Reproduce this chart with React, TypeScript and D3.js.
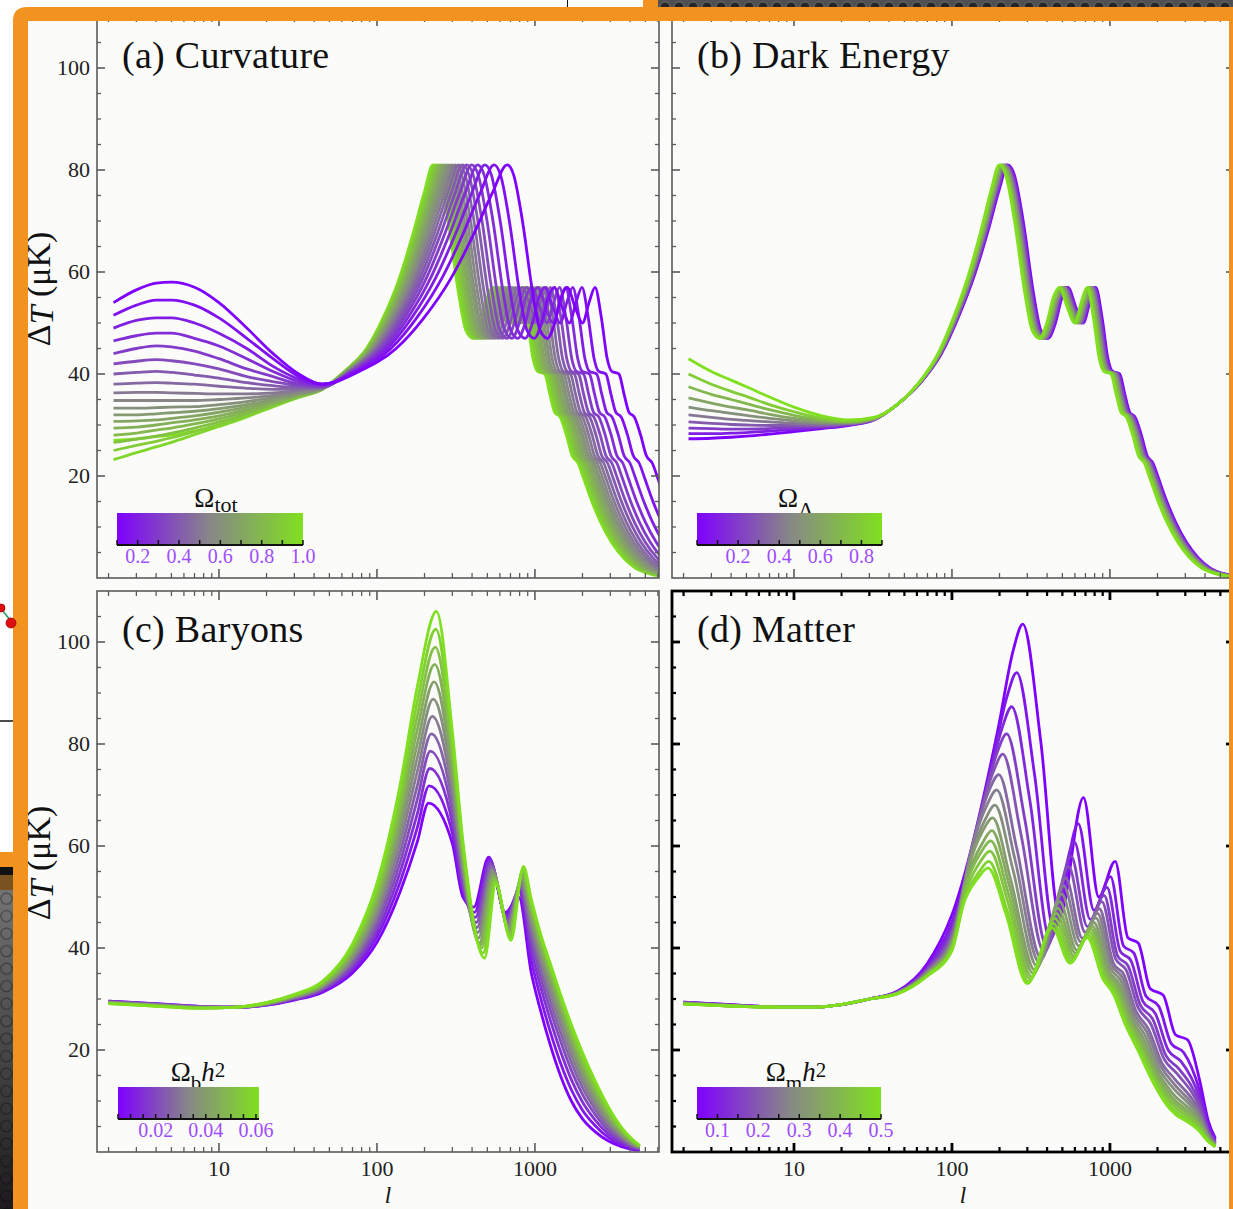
import React from 'react';
import * as d3 from 'd3';

const FONT = "'Liberation Serif','Times New Roman',Times,serif";
const ORANGE = '#f2931f';
const PURPLE = '#7f00ff';
const GRAY = '#878787';
const GREEN = '#80e01f';
const LABEL_PURPLE = '#a04cff';

// ---------- shared axes ----------
const L_DOMAIN = [1.69, 6100];
const T_DOMAIN = [0, 110];
const xMajor = [10, 100, 1000];
const xMinor = [2, 3, 4, 5, 6, 7, 8, 9, 20, 30, 40, 50, 60, 70, 80, 90, 200, 300, 400, 500, 600, 700, 800, 900, 2000, 3000, 4000, 5000, 6000];
const yMajor = [20, 40, 60, 80, 100];
const yMinor = [5, 10, 15, 25, 30, 35, 45, 50, 55, 65, 70, 75, 85, 90, 95, 105];

// ---------- (a) Curvature ----------
const curvOmega = [0.1, 0.15, 0.2, 0.25, 0.3, 0.35, 0.4, 0.45, 0.5, 0.55, 0.6, 0.65, 0.7, 0.75, 0.8, 0.85, 0.9, 0.95, 1.0];
const curvPeakL = [667, 551, 482, 434, 398, 370, 348, 329, 313, 299, 287, 277, 267, 259, 251, 244, 237, 232, 226];
const lowL = [2.15, 3, 4, 5, 7, 10, 15, 22, 32, 45];
const curvLowT = [
  [54, 56.5, 57.8, 58, 57, 54, 49, 44, 40, 38],
  [51.5, 53.5, 54.5, 54.5, 53.5, 51, 47, 43, 39.5, 38],
  [49, 50.5, 51, 51, 50, 48, 45, 41.5, 39, 38],
  [46.5, 47.5, 48, 48, 47, 45.5, 43, 40.5, 38.5, 37.8],
  [44, 45, 45.5, 45.3, 44.5, 43, 41, 39.5, 38, 37.6],
  [42, 42.5, 42.8, 42.6, 42, 41, 39.5, 38.5, 37.7, 37.5],
  [40, 40.3, 40.5, 40.3, 39.8, 39.2, 38.3, 37.7, 37.4, 37.4],
  [38, 38.2, 38.3, 38.2, 38, 37.6, 37.2, 37, 37.1, 37.3],
  [36.3, 36.4, 36.4, 36.3, 36.2, 36.1, 36.1, 36.3, 36.8, 37.3],
  [34.8, 34.8, 34.8, 34.8, 34.8, 35, 35.3, 35.8, 36.5, 37.2],
  [33.3, 33.3, 33.4, 33.5, 33.6, 34, 34.6, 35.4, 36.3, 37.2],
  [32, 32, 32.2, 32.4, 32.7, 33.2, 34, 35, 36.1, 37.1],
  [30.7, 30.8, 31, 31.3, 31.8, 32.5, 33.5, 34.7, 36, 37.1],
  [29.4, 29.6, 30, 30.4, 31, 31.8, 33, 34.4, 35.8, 37],
  [28, 28.4, 29, 29.4, 30.2, 31.2, 32.6, 34.2, 35.7, 37],
  [26.6, 27.2, 27.8, 28.4, 29.4, 30.6, 32.2, 34, 35.6, 37],
  [25, 26, 26.8, 27.5, 28.7, 30.1, 31.9, 33.8, 35.5, 37],
  [23.2, 24.6, 25.7, 26.6, 28.1, 29.7, 31.6, 33.6, 35.4, 37],
  [27, 27.3, 27.7, 28, 28.8, 30, 31.7, 33.6, 35.5, 37],
];
const riseFrac = [0.2, 0.4, 0.55, 0.7, 0.82, 0.92, 1];
const curvRiseT = [40.5, 45, 51, 59, 67.5, 75.5, 81];
// post-peak shape, multipole given as a ratio of each curve's first-peak multipole
const tailRatio = [1.1, 1.25, 1.45, 1.62, 1.8, 2.0, 2.2, 2.4, 2.7, 3.0, 3.3, 3.6, 3.95, 4.3, 4.6, 5.1, 5.5, 5.9, 6.4, 7.0, 7.6, 8.3, 9.0, 10.0, 11.5, 13.5, 16, 19, 23, 27, 31];
const tailT = [79, 70, 56, 48.5, 47, 50, 55, 57, 53, 50, 54, 57, 51, 43, 40.5, 40, 36, 32.5, 31.5, 28, 24, 22.5, 19.5, 15.5, 11, 7, 4, 2, 0.9, 0.4, 0.2];
const curvTicks = [0.1, 0.2, 0.3, 0.4, 0.5, 0.6, 0.7, 0.8, 0.9, 1.0];
const curvLabels = [0.2, 0.4, 0.6, 0.8, 1.0];

// ---------- (b) Dark Energy ----------
const deLambda = [0, 0.1, 0.2, 0.3, 0.4, 0.5, 0.6, 0.7, 0.8, 0.9];
const dePeakL = [226, 223, 220, 217, 214, 211, 208, 205, 202, 199];
const deLowT = [
  [27.3, 27.4, 27.6, 27.8, 28.2, 28.7, 29.3, 29.9, 31, 34],
  [28.3, 28.3, 28.4, 28.5, 28.8, 29.1, 29.5, 30, 31, 34],
  [29.4, 29.3, 29.2, 29.2, 29.3, 29.5, 29.7, 30.1, 31, 34],
  [30.6, 30.3, 30.1, 30, 29.9, 29.9, 29.9, 30.2, 31.1, 34],
  [32, 31.5, 31.1, 30.9, 30.6, 30.3, 30.2, 30.3, 31.1, 34],
  [33.5, 32.8, 32.3, 31.9, 31.3, 30.8, 30.4, 30.4, 31.2, 34],
  [35.3, 34.3, 33.5, 33, 32.1, 31.3, 30.7, 30.5, 31.2, 34],
  [37.5, 36, 35, 34.2, 33, 31.9, 31, 30.6, 31.3, 34],
  [40, 38, 36.6, 35.6, 34, 32.6, 31.3, 30.8, 31.4, 34],
  [43, 40.5, 38.8, 37.5, 35.5, 33.5, 31.8, 31, 31.5, 34],
];
const deRiseT = [38, 44, 51, 59.5, 68, 76, 81];
const deTicks = [0, 0.1, 0.2, 0.3, 0.4, 0.5, 0.6, 0.7, 0.8, 0.9];
const deLabels = [0.2, 0.4, 0.6, 0.8];

// ---------- (c) Baryons ----------
const baryOmega = [0.005, 0.01, 0.015, 0.02, 0.025, 0.03, 0.035, 0.04, 0.045, 0.05, 0.055, 0.06];
const baryKnotL = [
  2, 3, 5, 8, 13, 20, 30, 45, 70, 100, 140, 180,
  [212, 214, 216, 218, 221, 224, 227, 230, 232, 234, 236, 238],
  300, 350,
  [410, 415, 420, 425, 430, 435, 440, 445, 450, 460, 470, 480],
  [510, 515, 520, 525, 530, 535, 540, 545, 550, 555, 560, 565],
  [650, 655, 660, 665, 670, 675, 680, 685, 690, 695, 700, 705],
  [790, 795, 800, 805, 810, 815, 820, 825, 830, 835, 840, 845],
  950, 1080, 1250, 1450, 1700, 2000, 2400, 2900, 3500, 4100, 4600,
];
const baryKnotT = [
  [29.6, 29.6, 29.5, 29.5, 29.4, 29.4, 29.3, 29.3, 29.2, 29.2, 29.1, 29.1],
  [29.3, 29.3, 29.2, 29.2, 29.1, 29.1, 29.0, 29.0, 28.9, 28.9, 28.8, 28.8],
  [28.9, 28.9, 28.8, 28.8, 28.7, 28.7, 28.6, 28.6, 28.5, 28.5, 28.4, 28.4],
  [28.5, 28.5, 28.5, 28.4, 28.4, 28.4, 28.3, 28.3, 28.3, 28.2, 28.2, 28.2],
  28.4,
  [28.8, 28.8, 28.9, 28.9, 29.0, 29.0, 29.1, 29.1, 29.2, 29.2, 29.3, 29.3],
  [29.8, 29.9, 30.0, 30.1, 30.2, 30.3, 30.4, 30.5, 30.6, 30.7, 30.8, 30.9],
  [31.3, 31.5, 31.7, 31.9, 32.1, 32.3, 32.5, 32.6, 32.8, 33.0, 33.2, 33.4],
  [35.1, 35.6, 36.1, 36.6, 37.2, 37.7, 38.2, 38.7, 39.2, 39.8, 40.3, 40.8],
  [41.1, 42.2, 43.2, 44.3, 45.3, 46.4, 47.4, 48.4, 49.5, 50.5, 51.6, 52.7],
  [51.0, 52.9, 54.8, 56.7, 58.6, 60.5, 62.4, 64.2, 66.1, 68.0, 70.0, 71.9],
  [60.8, 63.6, 66.3, 69.1, 71.8, 74.6, 77.3, 80.0, 82.8, 85.5, 88.3, 91.2],
  [68.4, 71.8, 75.2, 78.6, 82, 85.4, 88.8, 92.2, 95.6, 99, 102.5, 106],
  [60.5, 62.5, 64.5, 66.5, 68.5, 70.5, 72.5, 74.5, 76.5, 78.5, 80.5, 82.5],
  [50, 51, 52, 53, 54, 55, 56, 57, 58, 59, 60, 61],
  [48, 47, 46, 45, 44, 43, 42, 41, 40.5, 40, 39, 38],
  [57.8, 57.5, 57, 56.5, 56, 55.5, 55, 54.5, 54, 53.5, 53, 52.5],
  [47, 46.5, 46, 45.5, 45, 44.5, 44, 43.5, 43, 42.5, 42, 41.5],
  [50, 51, 51.5, 52, 52.5, 53, 53.5, 54, 54.5, 55, 55.5, 56],
  [35, 37.5, 39.5, 41.3, 42.8, 44.2, 45.4, 46.4, 47.3, 48.1, 48.8, 49.5],
  [28, 30.5, 32.7, 34.6, 36.2, 37.7, 39, 40.1, 41, 41.8, 42.5, 43],
  [21, 23.6, 25.9, 27.9, 29.6, 31.2, 32.6, 33.8, 34.8, 35.7, 36.4, 37],
  [15, 17.5, 19.8, 21.8, 23.5, 25.1, 26.5, 27.7, 28.8, 29.7, 30.4, 31],
  [10, 12.2, 14.2, 16, 17.6, 19, 20.3, 21.5, 22.5, 23.4, 24.2, 25],
  [6.5, 8.2, 9.8, 11.3, 12.6, 13.8, 14.9, 15.9, 16.8, 17.7, 18.6, 19.5],
  [4, 5.2, 6.3, 7.4, 8.4, 9.3, 10.2, 11, 11.8, 12.6, 13.3, 14],
  [2.2, 2.9, 3.6, 4.3, 5, 5.6, 6.2, 6.8, 7.4, 7.9, 8.5, 9],
  [1.1, 1.5, 1.9, 2.3, 2.7, 3.1, 3.4, 3.8, 4.1, 4.4, 4.7, 5],
  [0.5, 0.7, 0.9, 1.1, 1.3, 1.5, 1.7, 1.9, 2.1, 2.3, 2.5, 2.6],
  [0.3, 0.4, 0.5, 0.6, 0.7, 0.8, 0.9, 1, 1.1, 1.2, 1.2, 1.3],
];
const baryTicks = [0.005, 0.01, 0.015, 0.02, 0.025, 0.03, 0.035, 0.04, 0.045, 0.05, 0.055, 0.06];
const baryLabels = [0.02, 0.04, 0.06];

// ---------- (d) Matter ----------
const matterOmega = [0.05, 0.085, 0.119, 0.154, 0.188, 0.223, 0.258, 0.292, 0.327, 0.362, 0.396, 0.431, 0.465, 0.5];
const matterKnotL = [
  2, 3, 5, 8, 13, 20, 30, 45, 70, 100,
  [197, 180, 167, 155, 147, 139, 134, 131, 127, 125, 123, 122, 120, 118],
  [244, 224, 208, 193, 183, 172, 167, 163, 157, 156, 153, 151, 149, 147],
  [281, 257, 239, 222, 210, 198, 192, 187, 181, 179, 176, 174, 171, 169],
  [365, 334, 311, 289, 273, 257, 250, 243, 235, 233, 229, 226, 222, 220],
  [480, 444, 418, 399, 384, 368, 357, 346, 336, 327, 319, 312, 305, 300],
  [680, 630, 595, 568, 548, 525, 510, 495, 480, 468, 458, 448, 438, 430],
  [850, 792, 751, 720, 696, 670, 653, 635, 618, 604, 592, 580, 569, 560],
  [1080, 1008, 958, 918, 889, 857, 835, 814, 792, 774, 760, 745, 731, 720],
  [1300, 1220, 1164, 1120, 1088, 1052, 1028, 1004, 980, 960, 944, 928, 912, 900],
  [1510, 1418, 1354, 1303, 1266, 1225, 1197, 1170, 1142, 1119, 1101, 1082, 1064, 1050],
  [1800, 1690, 1613, 1553, 1509, 1459, 1426, 1393, 1360, 1333, 1311, 1289, 1267, 1250],
  [2170, 2036, 1942, 1869, 1815, 1755, 1714, 1674, 1634, 1601, 1574, 1547, 1520, 1500],
  [2600, 2450, 2345, 2263, 2203, 2135, 2090, 2045, 2000, 1963, 1933, 1903, 1873, 1850],
  [3100, 2930, 2811, 2718, 2650, 2573, 2522, 2471, 2420, 2378, 2344, 2310, 2276, 2250],
  3700, 4200, 4650,
];
const matterKnotT = [
  [29.4, 29.4, 29.3, 29.3, 29.3, 29.2, 29.2, 29.2, 29.1, 29.1, 29.1, 29.0, 29.0, 29.0],
  [29.1, 29.1, 29.0, 29.0, 29.0, 28.9, 28.9, 28.9, 28.9, 28.8, 28.8, 28.8, 28.8, 28.8],
  [28.7, 28.7, 28.7, 28.6, 28.6, 28.6, 28.6, 28.6, 28.5, 28.5, 28.5, 28.5, 28.5, 28.5],
  28.4,
  28.4,
  28.9,
  30.0,
  [31.5, 31.4, 31.3, 31.3, 31.2, 31.2, 31.2, 31.1, 31.1, 31.1, 31.1, 31.0, 31.0, 31.0],
  [37, 36.5, 36.2, 35.9, 35.7, 35.5, 35.3, 35.2, 35, 34.9, 34.8, 34.7, 34.6, 34.5],
  [46.5, 45.1, 44.1, 43.4, 42.8, 42.2, 41.7, 41.3, 40.9, 40.6, 40.3, 40, 39.7, 39.5],
  [83.4, 76.5, 71.6, 67.7, 64.8, 61.9, 59.7, 57.5, 55.6, 53.8, 52.4, 50.9, 49.4, 48.5],
  [98.3, 89.5, 83.2, 78.3, 74.6, 70.9, 68.1, 65.3, 63, 60.6, 58.8, 56.9, 55, 53.8],
  [103.5, 94, 87.3, 82, 78, 74, 71, 68, 65.5, 63, 61, 59, 57, 55.7],
  [80.5, 73.8, 69, 65.3, 62.4, 59.6, 57.5, 55.4, 53.5, 51.8, 50.4, 49, 47.6, 46.6],
  [46, 43.4, 41.6, 40.2, 39.1, 37.9, 37.2, 36.4, 35.6, 35, 34.4, 33.9, 33.4, 33],
  [69.5, 64.4, 60.8, 58, 56, 53.7, 52.2, 50.6, 49.1, 47.8, 46.8, 45.8, 44.8, 44],
  [50, 47.4, 45.6, 44.2, 43.1, 41.9, 41.2, 40.4, 39.6, 39, 38.4, 37.9, 37.4, 37],
  [57, 54, 51.9, 50.3, 49.1, 47.7, 46.8, 45.9, 45, 44.3, 43.7, 43.1, 42.5, 42],
  [42, 40.4, 39.3, 38.4, 37.8, 37, 36.6, 36.1, 35.6, 35.2, 34.9, 34.6, 34.2, 34],
  [41, 39, 37.6, 36.5, 35.7, 34.8, 34.2, 33.6, 33, 32.5, 32.1, 31.7, 31.3, 31],
  [32, 30.6, 29.6, 28.9, 28.3, 27.7, 27.2, 26.8, 26.4, 26.1, 25.8, 25.5, 25.2, 25],
  [30.8, 28.6, 27.1, 26, 25.1, 24.1, 23.5, 22.8, 22.2, 21.6, 21.2, 20.8, 20.3, 20],
  [23, 21.2, 19.9, 18.9, 18.2, 17.4, 16.9, 16.3, 15.8, 15.4, 15, 14.6, 14.3, 14],
  [22, 19.5, 17.8, 16.4, 15.4, 14.3, 13.5, 12.8, 12, 11.4, 10.9, 10.4, 9.9, 9.5],
  [14, 12, 10.6, 9.5, 8.7, 7.8, 7.2, 6.6, 6, 5.5, 5.1, 4.7, 4.3, 4],
  [6, 5.2, 4.6, 4.2, 3.9, 3.5, 3.3, 3, 2.8, 2.6, 2.4, 2.3, 2.1, 2],
  [2.7, 2.4, 2.1, 1.9, 1.7, 1.6, 1.5, 1.4, 1.3, 1.2, 1.1, 1.05, 1, 1],
];
const matterTicks = [0.05, 0.1, 0.15, 0.2, 0.25, 0.3, 0.35, 0.4, 0.45, 0.5];
const matterLabels = [0.1, 0.2, 0.3, 0.4, 0.5];

// ---------- builders ----------
type Pt = [number, number];

function composite(lowT: number[], peakL: number[], i: number, riseT: number[]): Pt[] {
  const pts: Pt[] = lowL.map((l, j) => [l, lowT[j]] as Pt);
  const anchor = lowL[lowL.length - 1];
  const la = Math.log10(anchor);
  const lp = Math.log10(peakL[i]);
  riseFrac.forEach((f, j) => pts.push([Math.pow(10, la + f * (lp - la)), riseT[j]]));
  tailRatio.forEach((r, j) => pts.push([peakL[i] * r, tailT[j]]));
  return pts;
}

function fromKnots(Ls: any[], Ts: any[], i: number): Pt[] {
  return Ls.map((l, j) => {
    const lv = Array.isArray(l) ? l[i] : l;
    const tv = Array.isArray(Ts[j]) ? Ts[j][i] : Ts[j];
    return [lv, tv] as Pt;
  });
}

function colorScale(domain: number[]) {
  const mid = (domain[0] + domain[1]) / 2;
  return d3.scaleLinear<string>().domain([domain[0], mid, domain[1]]).range([PURPLE, GRAY, GREEN]).interpolate(d3.interpolateRgb);
}

type PanelSpec = {
  id: string;
  x0: number; x1: number; y0: number; y1: number;
  title: string;
  curves: { v: number; pts: Pt[] }[];
  cdomain: number[];
  reverse: boolean;
  frameColor: string;
  frameWidth: number;
  yLabels: boolean;
  xLabels: boolean;
  legend: {
    x: number; y: number; w: number; h: number; domain: number[];
    ticks: number[]; labels: number[]; fmt: string;
    titleX: number;
    titleParts: { t: string; dy: number; size: number; italic?: boolean }[];
  };
};

function Panel({ p }: { p: PanelSpec }) {
  const xs = d3.scaleLog().domain(L_DOMAIN).range([p.x0, p.x1]);
  const ys = d3.scaleLinear().domain(T_DOMAIN).range([p.y1, p.y0]);
  const col = colorScale(p.cdomain);
  const line = d3.line<Pt>().x(d => xs(d[0])).y(d => ys(d[1])).curve(d3.curveMonotoneX);
  const curves = p.reverse ? [...p.curves].reverse() : p.curves;
  const fc = p.frameColor;
  const fw = p.frameWidth;
  const lg = p.legend;
  const cs = d3.scaleLinear().domain(lg.domain).range([lg.x, lg.x + lg.w]);
  const fmt = d3.format(lg.fmt);
  const gid = 'grad-' + p.id;
  return (
    <g>
      <defs>
        <clipPath id={'clip-' + p.id}>
          <rect x={p.x0} y={p.y0} width={p.x1 - p.x0} height={p.y1 - p.y0} />
        </clipPath>
        <linearGradient id={gid} x1="0" x2="1" y1="0" y2="0">
          <stop offset="0" stopColor={PURPLE} />
          <stop offset="0.5" stopColor={GRAY} />
          <stop offset="1" stopColor={GREEN} />
        </linearGradient>
      </defs>
      <g clipPath={`url(#clip-${p.id})`}>
        {curves.map((c, k) => (
          <path key={k} d={line(c.pts) || ''} fill="none" stroke={col(c.v)} strokeWidth={2.8} strokeLinejoin="round" />
        ))}
      </g>
      {/* frame */}
      <rect x={p.x0} y={p.y0} width={p.x1 - p.x0} height={p.y1 - p.y0} fill="none" stroke={fc} strokeWidth={fw} />
      {/* x ticks */}
      {xMajor.map(v => (
        <g key={'xM' + v}>
          <line x1={xs(v)} x2={xs(v)} y1={p.y1} y2={p.y1 - 9} stroke={fc} strokeWidth={fw} />
          <line x1={xs(v)} x2={xs(v)} y1={p.y0} y2={p.y0 + 9} stroke={fc} strokeWidth={fw} />
        </g>
      ))}
      {xMinor.map(v => (
        <g key={'xm' + v}>
          <line x1={xs(v)} x2={xs(v)} y1={p.y1} y2={p.y1 - 5} stroke={fc} strokeWidth={fw * 0.8} />
          <line x1={xs(v)} x2={xs(v)} y1={p.y0} y2={p.y0 + 5} stroke={fc} strokeWidth={fw * 0.8} />
        </g>
      ))}
      {yMajor.map(v => (
        <g key={'yM' + v}>
          <line x1={p.x0} x2={p.x0 + 8} y1={ys(v)} y2={ys(v)} stroke={fc} strokeWidth={fw} />
          <line x1={p.x1} x2={p.x1 - 8} y1={ys(v)} y2={ys(v)} stroke={fc} strokeWidth={fw} />
        </g>
      ))}
      {yMinor.map(v => (
        <g key={'ym' + v}>
          <line x1={p.x0} x2={p.x0 + 4} y1={ys(v)} y2={ys(v)} stroke={fc} strokeWidth={fw * 0.8} />
          <line x1={p.x1} x2={p.x1 - 4} y1={ys(v)} y2={ys(v)} stroke={fc} strokeWidth={fw * 0.8} />
        </g>
      ))}
      {p.yLabels && yMajor.map(v => (
        <text key={'yl' + v} x={p.x0 - 7} y={ys(v) + 7} textAnchor="end" fontSize={22} fill="#222">{v}</text>
      ))}
      {p.xLabels && xMajor.map(v => (
        <text key={'xl' + v} x={xs(v)} y={p.y1 + 24} textAnchor="middle" fontSize={22} fill="#222">{v}</text>
      ))}
      {/* title */}
      <text x={p.x0 + 25} y={p.y0 + 51} fontSize={38} letterSpacing={0.3} fill="#111">{p.title}</text>
      {/* legend */}
      <text x={lg.titleX} y={lg.y - 6} textAnchor="middle" fill="#111">
        {lg.titleParts.map((tp, k) => (
          <tspan key={k} dy={tp.dy} fontSize={tp.size} fontStyle={tp.italic ? 'italic' : 'normal'}>{tp.t}</tspan>
        ))}
      </text>
      <rect x={lg.x} y={lg.y} width={lg.w} height={lg.h} fill={`url(#${gid})`} />
      <line x1={lg.x} x2={lg.x + lg.w} y1={lg.y + lg.h} y2={lg.y + lg.h} stroke="#111" strokeWidth={2} />
      {lg.ticks.map(v => (
        <line key={'ct' + v} x1={cs(v)} x2={cs(v)} y1={lg.y + lg.h} y2={lg.y + lg.h - 5} stroke="#111" strokeWidth={1.5} />
      ))}
      {lg.labels.map(v => (
        <text key={'cl' + v} x={cs(v)} y={lg.y + lg.h + 18} textAnchor="middle" fontSize={20} fill={LABEL_PURPLE}>{fmt(v)}</text>
      ))}
    </g>
  );
}

export default function App() {
  const panels: PanelSpec[] = [
    {
      id: 'a', x0: 97, x1: 659, y0: 17, y1: 578, title: '(a) Curvature',
      curves: curvOmega.map((v, i) => ({ v, pts: composite(curvLowT[i], curvPeakL, i, curvRiseT) })),
      cdomain: [0.1, 1.0], reverse: true, frameColor: '#5a5a5a', frameWidth: 1.6, yLabels: true, xLabels: false,
      legend: {
        x: 117, y: 513, w: 186, h: 32, domain: [0.1, 1.0], ticks: curvTicks, labels: curvLabels, fmt: '.1f', titleX: 216,
        titleParts: [{ t: 'Ω', dy: 0, size: 27 }, { t: 'tot', dy: 5, size: 22 }],
      },
    },
    {
      id: 'b', x0: 672, x1: 1234, y0: 17, y1: 578, title: '(b) Dark Energy',
      curves: deLambda.map((v, i) => ({ v, pts: composite(deLowT[i], dePeakL, i, deRiseT) })),
      cdomain: [0, 0.9], reverse: false, frameColor: '#5a5a5a', frameWidth: 1.6, yLabels: false, xLabels: false,
      legend: {
        x: 697, y: 513, w: 185, h: 32, domain: [0, 0.9], ticks: deTicks, labels: deLabels, fmt: '.1f', titleX: 796,
        titleParts: [{ t: 'Ω', dy: 0, size: 27 }, { t: 'Λ', dy: 10, size: 22 }],
      },
    },
    {
      id: 'c', x0: 97, x1: 659, y0: 591, y1: 1152, title: '(c) Baryons',
      curves: baryOmega.map((v, i) => ({ v, pts: fromKnots(baryKnotL, baryKnotT, i) })),
      cdomain: [0.005, 0.06], reverse: false, frameColor: '#5a5a5a', frameWidth: 1.6, yLabels: true, xLabels: true,
      legend: {
        x: 118, y: 1087, w: 141, h: 32, domain: [0.005, 0.0612], ticks: baryTicks, labels: baryLabels, fmt: '.2f', titleX: 198,
        titleParts: [{ t: 'Ω', dy: 0, size: 27 }, { t: 'b', dy: 9, size: 21 }, { t: 'h', dy: -9, size: 27, italic: true }, { t: '2', dy: -4, size: 21 }],
      },
    },
    {
      id: 'd', x0: 672, x1: 1234, y0: 591, y1: 1152, title: '(d) Matter',
      curves: matterOmega.map((v, i) => ({ v, pts: fromKnots(matterKnotL, matterKnotT, i) })),
      cdomain: [0.05, 0.5], reverse: false, frameColor: '#000', frameWidth: 2.8, yLabels: false, xLabels: true,
      legend: {
        x: 697, y: 1087, w: 184, h: 32, domain: [0.05, 0.5], ticks: matterTicks, labels: matterLabels, fmt: '.1f', titleX: 796,
        titleParts: [{ t: 'Ω', dy: 0, size: 27 }, { t: 'm', dy: 9, size: 21 }, { t: 'h', dy: -9, size: 27, italic: true }, { t: '2', dy: -4, size: 21 }],
      },
    },
  ];

  return (
    <svg width={1233} height={1209} viewBox="0 0 1233 1209" style={{ position: 'absolute', left: 0, top: 0, display: 'block' }} fontFamily={FONT}>
      <defs>
        <pattern id="perf" width={14} height={7} patternUnits="userSpaceOnUse">
          <rect width={14} height={7} fill="#505050" />
          <circle cx={7} cy={7} r={5} fill="#262626" stroke="#777" strokeWidth={0.8} />
        </pattern>
        <linearGradient id="leftdark" x1="0" x2="0" y1="0" y2="1">
          <stop offset="0" stopColor="#7a7a7a" />
          <stop offset="1" stopColor="#1c1a1c" />
        </linearGradient>
        <pattern id="dots" width={13} height={17.5} patternUnits="userSpaceOnUse" y={890}>
          <circle cx={6.5} cy={8.7} r={5.6} fill="none" stroke="rgba(0,0,0,0.35)" strokeWidth={1.2} />
        </pattern>
      </defs>
      <rect width={1233} height={1209} fill="#fbfcfa" />

      {panels.map(p => <Panel key={p.id} p={p} />)}

      {/* axis titles */}
      {[297, 871].map((cy, k) => (
        <text key={'yt' + k} transform={`translate(50,${cy - 8}) rotate(-90)`} textAnchor="middle" fontSize={34} fill="#111">
          Δ<tspan fontStyle="italic" dy={3}>T</tspan><tspan dy={-3}> (μK)</tspan>
        </text>
      ))}
      {[388, 963].map((cx, k) => (
        <text key={'xt' + k} x={cx} y={1203} textAnchor="middle" fontSize={23} fontStyle="italic" fill="#111">l</text>
      ))}

      {/* screenshot surroundings */}
      <rect x={0} y={0} width={643} height={7} fill="#ffffff" />
      <line x1={567.5} x2={567.5} y1={0} y2={7} stroke="#111" strokeWidth={1} />
      <rect x={658} y={0} width={575} height={7} fill="url(#perf)" />
      <rect x={643} y={0} width={15} height={8} fill={ORANGE} />
      <path d="M13,1209 L13,21 Q13,7 27,7 L1233,7 L1233,21 L28,21 L28,1209 Z" fill={ORANGE} />
      <rect x={1229} y={7} width={4} height={1202} fill={ORANGE} />
      <rect x={0} y={0} width={13} height={852} fill="#ffffff" />
      <line x1={0} x2={13} y1={721} y2={721} stroke="#111" strokeWidth={1.5} />
      <line x1={3} y1={611} x2={10} y2={620} stroke="#1a9a6a" strokeWidth={1.5} />
      <circle cx={1} cy={608} r={4} fill="#e01010" stroke="#900" strokeWidth={0.8} />
      <circle cx={11} cy={623} r={5} fill="#e01010" stroke="#900" strokeWidth={0.8} />
      <rect x={0} y={852} width={13} height={15} fill={ORANGE} />
      <rect x={0} y={867} width={13} height={342} fill="url(#leftdark)" />
      <rect x={0} y={867} width={13} height={8} fill="#111" />
      <rect x={0} y={875} width={13} height={15} fill="#7a5220" />
      <rect x={0} y={890} width={13} height={319} fill="url(#dots)" />
    </svg>
  );
}
